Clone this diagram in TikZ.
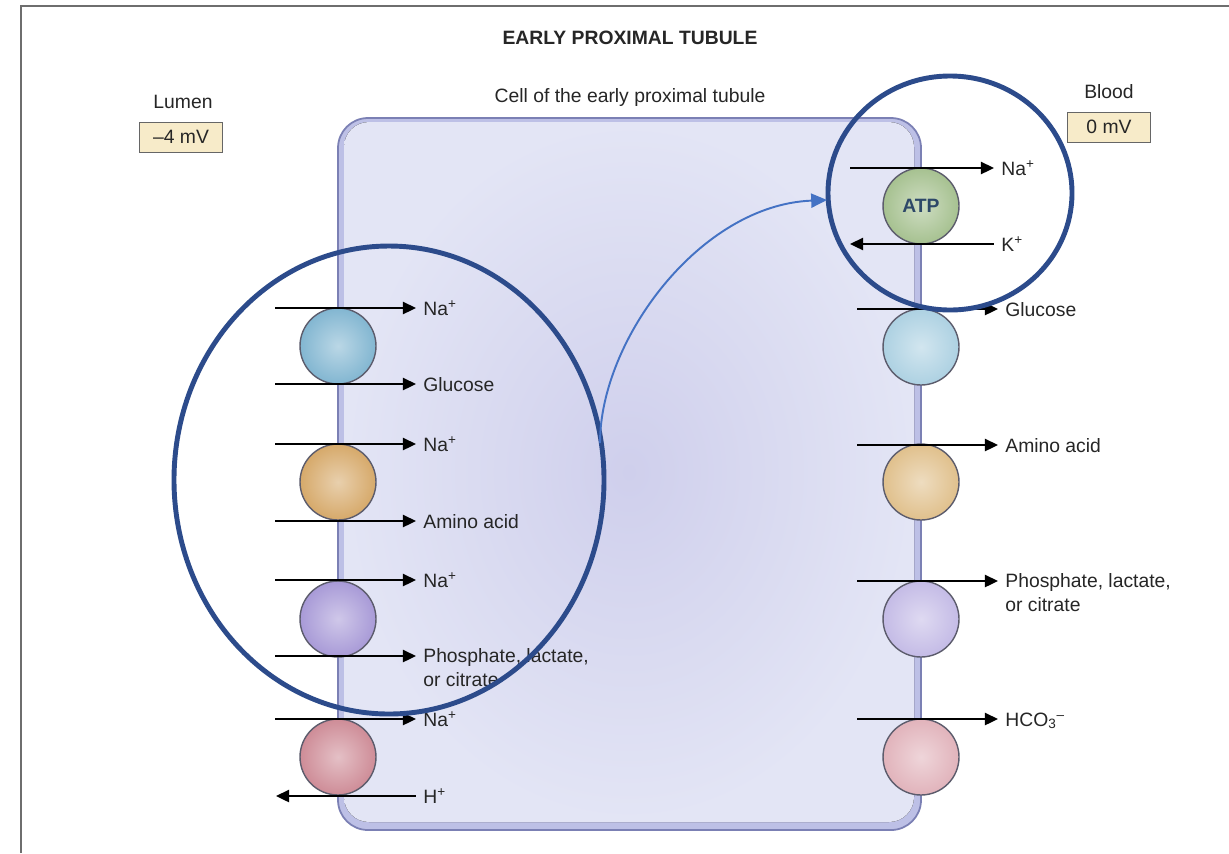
\documentclass[tikz,border=0pt]{standalone}
\usepackage{fontspec}
\setmainfont{Liberation Sans}
\usetikzlibrary{arrows.meta}
\definecolor{txt}{HTML}{262626}
\definecolor{framegray}{HTML}{6E6E6E}
\definecolor{boxfill}{HTML}{F7EBC9}
\definecolor{cellout}{HTML}{E3E5F5}
\definecolor{cellmid}{HTML}{CFCFEC}
\definecolor{cellrim}{HTML}{BDC0E6}
\definecolor{cellline}{HTML}{7B80B4}
\definecolor{sphline}{HTML}{5C5C6C}
\definecolor{lblue}{HTML}{82B6D1}
\definecolor{lorange}{HTML}{D6A96A}
\definecolor{lpurple}{HTML}{A89AD7}
\definecolor{lred}{HTML}{CE8C97}
\definecolor{rblue}{HTML}{ADD1E2}
\definecolor{rorange}{HTML}{E0C08C}
\definecolor{rpurple}{HTML}{C4BBE6}
\definecolor{rred}{HTML}{E1B3BB}
\definecolor{atpg}{HTML}{A6C190}
\definecolor{atptxt}{HTML}{2D4868}
\definecolor{ringblue}{HTML}{2C4B8B}
\definecolor{linkblue}{HTML}{4472C4}

\begin{document}
\begin{tikzpicture}[x=0.02cm,y=-0.02cm,
  every node/.style={font=\fontsize{11}{13.5}\selectfont,text=txt},
  lab/.style={anchor=base west,inner sep=0pt},
  lab2/.style={anchor=north west,inner sep=0pt,align=left},
  flow/.style={line width=1.1pt,-{Triangle[length=7.5pt,width=7pt]}},
  pump/.style={circle,draw=sphline,line width=0.8pt,minimum size=1.52cm,inner sep=0pt,
    inner color=#1!55!white,outer color=#1},
  mvbox/.style={draw=gray!80!black,fill=boxfill,minimum width=1.66cm,minimum height=0.6cm,inner sep=0pt},
  ring/.style={draw=ringblue,line width=2.8pt},
  link/.style={draw=linkblue,line width=1.1pt,-{Triangle[length=9pt,width=8pt]}}]

\useasboundingbox (0,0) rectangle (1229,853);
\fill[white] (0,0) rectangle (1229,853);
\draw[framegray,line width=1.7pt] (21,853)--(21,6)--(1229,6);

% cell body
\fill[cellrim,rounded corners=0.6cm] (338,118) rectangle (921,830);
\fill[inner color=cellmid,outer color=cellout,rounded corners=0.5cm] (344,122) rectangle (914,822);
\draw[cellline,line width=1pt,rounded corners=0.6cm] (338,118) rectangle (921,830);

% titles
\node[font=\fontsize{11}{13.5}\selectfont\bfseries] (title) at (630,38) {EARLY PROXIMAL TUBULE};
\node (cellname) at (630,97) {Cell of the early proximal tubule};
\node (lumen) at (183,102) {Lumen};
\node[mvbox] (lumenmv) at (181,137) {–4 mV};
\node (blood) at (1109,92) {Blood};
\node[mvbox] (bloodmv) at (1109,127) {0 mV};

% luminal carriers
\node[pump=lblue] (sglt) at (338,346) {};
\node[pump=lorange] (naaa) at (338,482) {};
\node[pump=lpurple] (naph) at (338,619) {};
\node[pump=lred] (nhe) at (338,757) {};

\coordinate (la1) at (275,308);
\coordinate (la2) at (275,384);
\coordinate (la3) at (275,444);
\coordinate (la4) at (275,521);
\coordinate (la5) at (275,580);
\coordinate (la6) at (275,656);
\coordinate (la7) at (275,719);
\coordinate (la8) at (276,796);

\node[lab] (lna1) at (423,315) {Na\textsuperscript{+}};
\node[lab] (lglu) at (423,391) {Glucose};
\node[lab] (lna2) at (423,451) {Na\textsuperscript{+}};
\node[lab] (laa) at (423,528) {Amino acid};
\node[lab] (lna3) at (423,587) {Na\textsuperscript{+}};
\node[lab2] (lph) at (423,648) {Phosphate, lactate,\\or citrate};
\node[lab] (lna4) at (423,726) {Na\textsuperscript{+}};
\node[lab] (lh) at (423,803) {H\textsuperscript{+}};

\draw[flow,shorten >=4pt] (la1) -- (lna1.west |- la1);
\draw[flow,shorten >=4pt] (la2) -- (lglu.west |- la2);
\draw[flow,shorten >=4pt] (la3) -- (lna2.west |- la3);
\draw[flow,shorten >=4pt] (la4) -- (laa.west |- la4);
\draw[flow,shorten >=4pt] (la5) -- (lna3.west |- la5);
\draw[flow,shorten >=4pt] (la6) -- (lph.west |- la6);
\draw[flow,shorten >=4pt] (la7) -- (lna4.west |- la7);
\draw[flow,shorten <=4pt] (lh.west |- la8) -- (la8);

% basolateral carriers
\node[pump=atpg,font=\fontsize{11}{13.5}\selectfont\bfseries,text=atptxt] (atp) at (921,206) {ATP};
\node[pump=rblue] (rglu) at (921,347) {};
\node[pump=rorange] (raa) at (921,482) {};
\node[pump=rpurple] (rph) at (921,619) {};
\node[pump=rred] (rhco) at (921,757) {};

\coordinate (ra1) at (850,168);
\coordinate (ra2) at (850,244);
\coordinate (ra3) at (857,309);
\coordinate (ra4) at (857,445);
\coordinate (ra5) at (857,581);
\coordinate (ra6) at (857,719);

\node[lab] (rna) at (1001,175) {Na\textsuperscript{+}};
\node[lab] (rk) at (1001,251) {K\textsuperscript{+}};
\node[lab] (rglut) at (1005,316) {Glucose};
\node[lab] (raat) at (1005,452) {Amino acid};
\node[lab2] (rpht) at (1005,573) {Phosphate, lactate,\\or citrate};
\node[lab] (rhct) at (1005,726) {HCO\textsubscript{3}\textsuperscript{–}};

\draw[flow,shorten >=4pt] (ra1) -- (rna.west |- ra1);
\draw[flow,shorten <=4pt] (rk.west |- ra2) -- (ra2);
\draw[flow,shorten >=4pt] (ra3) -- (rglut.west |- ra3);
\draw[flow,shorten >=4pt] (ra4) -- (raat.west |- ra4);
\draw[flow,shorten >=4pt] (ra5) -- (rpht.west |- ra5);
\draw[flow,shorten >=4pt] (ra6) -- (rhct.west |- ra6);

% highlight rings
\draw[ring] (389,480) ellipse [x radius=215, y radius=234];
\draw[ring] (950,193) ellipse [x radius=122, y radius=117];
\coordinate (cs) at (600,443);
\coordinate (ce) at (827,200);
\draw[link] (cs) .. controls (600,340) and (700,205) .. (ce);

\end{tikzpicture}
\end{document}
